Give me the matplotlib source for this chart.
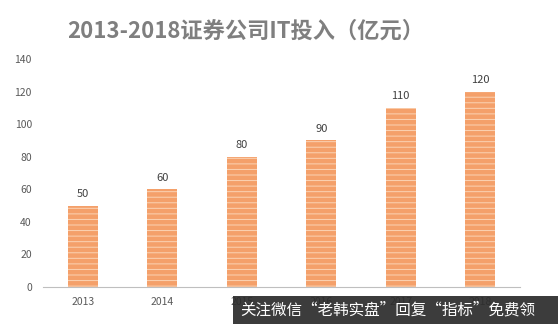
import matplotlib
matplotlib.use('Agg')
import matplotlib.pyplot as plt

plt.rcParams['font.family'] = ['Noto Sans CJK SC', 'DejaVu Sans']
plt.rcParams['hatch.linewidth'] = 0.7
plt.rcParams['hatch.color'] = '#FBD3B4'

years = ['2013', '2014', '2015', '2016', '2017', '2018']
invest = [50, 60, 80, 90, 110, 120]
yticks = [0, 20, 40, 60, 80, 100, 120, 140]

fig = plt.figure(figsize=(5.58, 3.24), dpi=100)
ax = fig.add_axes([43/558, 1 - 287/324, 477/558, 228/324])

x = range(len(years))
bars = ax.bar(x, invest, width=0.38, color='#F4A06A', hatch='---', linewidth=0)
for b in bars:
    b.set_edgecolor('#FBD3B4')

for i, v in enumerate(invest):
    ax.text(i, v + 4, str(v), ha='center', va='bottom', fontsize=8, color='#404040')

ax.set_xlim(-0.5, 5.5)
ax.set_ylim(0, 140)
ax.set_yticks(yticks)
ax.set_xticks(list(x))
ax.set_xticklabels(years)
ax.tick_params(axis='both', length=0, labelsize=7.5, colors='#595959')
ax.tick_params(axis='y', pad=8)
ax.tick_params(axis='x', pad=7)
for s in ['top', 'right', 'left']:
    ax.spines[s].set_visible(False)
ax.spines['bottom'].set_color('#BFBFBF')

fig.text(246/558, 1 - 31/324, '2013-2018证券公司IT投入（亿元）', ha='center', va='center',
         fontsize=16, fontweight='bold', color='#7F7F7F')

# watermark banner
fig.patches.append(plt.Rectangle((233/558, 0), 1 - 233/558, 28/324, transform=fig.transFigure,
                                 facecolor='#2B2B2B', alpha=0.92, edgecolor='none'))
fig.text(240/558, 14/324, '关注微信“老韩实盘”回复“指标”免费领', ha='left', va='center',
         fontsize=11.2, color='white')

fig.savefig('out.png', dpi=100)
